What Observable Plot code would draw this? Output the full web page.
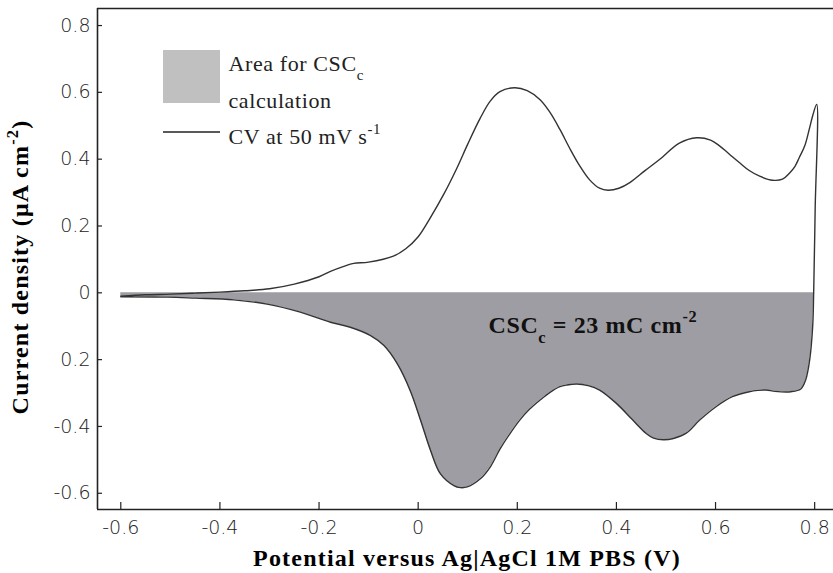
<!DOCTYPE html>
<html><head><meta charset="utf-8">
<script src="https://cdn.jsdelivr.net/npm/d3@7"></script>
<script src="https://cdn.jsdelivr.net/npm/@observablehq/plot@0.6"></script>
<style>body{margin:0;background:#fff}</style>
</head><body><div id="chart"></div>
<script>
// Anodic (upper) branch, -0.6 V -> 0.8 V
const upperX = [-0.6, -0.55, -0.5, -0.45, -0.4, -0.35, -0.3, -0.25, -0.2, -0.177, -0.15, -0.13, -0.1, -0.05, -0.025, 0, 0.025, 0.052, 0.079, 0.1, 0.125, 0.145, 0.165, 0.195, 0.22, 0.246, 0.266, 0.286, 0.306, 0.326, 0.346, 0.366, 0.383, 0.405, 0.427, 0.457, 0.487, 0.527, 0.562, 0.59, 0.608, 0.628, 0.648, 0.668, 0.689, 0.715, 0.735, 0.749, 0.76, 0.769, 0.78, 0.789, 0.796, 0.804];
const upperY = [-0.01, -0.006, -0.004, -0.001, 0.002, 0.006, 0.012, 0.026, 0.048, 0.064, 0.079, 0.088, 0.092, 0.11, 0.132, 0.168, 0.226, 0.296, 0.376, 0.445, 0.522, 0.573, 0.602, 0.614, 0.605, 0.578, 0.54, 0.489, 0.432, 0.38, 0.338, 0.313, 0.307, 0.313, 0.33, 0.365, 0.399, 0.448, 0.464, 0.457, 0.44, 0.415, 0.39, 0.366, 0.349, 0.337, 0.34, 0.358, 0.378, 0.405, 0.44, 0.489, 0.53, 0.564];
// Cathodic (lower) branch, 0.8 V -> -0.6 V
const lowerX = [0.804, 0.801, 0.798, 0.796, 0.79, 0.782, 0.772, 0.752, 0.72, 0.702, 0.685, 0.668, 0.634, 0.601, 0.568, 0.541, 0.515, 0.495, 0.475, 0.46, 0.433, 0.4, 0.366, 0.343, 0.32, 0.3, 0.286, 0.266, 0.246, 0.225, 0.205, 0.185, 0.165, 0.146, 0.126, 0.099, 0.085, 0.072, 0.045, 0.025, 0.005, -0.016, -0.042, -0.069, -0.096, -0.137, -0.177, -0.238, -0.305, -0.372, -0.45, -0.506, -0.6];
const lowerY = [0.564, 0.25, 0.0, -0.1, -0.2, -0.26, -0.288, -0.296, -0.295, -0.291, -0.292, -0.296, -0.311, -0.341, -0.381, -0.42, -0.436, -0.44, -0.435, -0.421, -0.381, -0.331, -0.291, -0.278, -0.273, -0.276, -0.281, -0.298, -0.321, -0.348, -0.381, -0.422, -0.468, -0.52, -0.556, -0.581, -0.583, -0.577, -0.542, -0.472, -0.382, -0.293, -0.213, -0.158, -0.128, -0.103, -0.088, -0.058, -0.034, -0.021, -0.016, -0.013, -0.012];

const xTicks = [-0.6, -0.4, -0.2, 0, 0.2, 0.4, 0.6, 0.8];
const xTickLabels = ["-0.6", "-0.4", "-0.2", "0", "0.2", "0.4", "0.6", "0.8"];
const yTicks = [0.8, 0.6, 0.4, 0.2, 0, -0.2, -0.4, -0.6];
const yTickLabels = ["0.8", "0.6", "0.4", "0.2", "0", "0.2", "-0.4", "-0.6"];
const xDomain = [-0.647, 0.838];
const yDomain = [-0.6486, 0.851];

const legendLabels = ["Area for CSC_{c}", "calculation", "CV at 50 mV s^{-1}"];
const annotation = "CSC_{c} = 23 mC cm^{-2}";
const xTitle = "Potential versus Ag|AgCl 1M PBS (V)";
const yTitle = "Current density (\u03bcA cm^{-2})";

const upper = upperX.map((x, i) => ({x, y: upperY[i]}));
const lower = lowerX.map((x, i) => ({x, y: lowerY[i]}));
const cv = upper.concat(lower.slice(1));
const fillData = lower.filter(d => d.y <= 0);

const fmtX = d => xTickLabels[xTicks.indexOf(d)];
const fmtY = d => yTickLabels[yTicks.indexOf(d)];

const serif = "'Liberation Serif', 'Times New Roman', serif";
const legendDy = [62, 99, 135];
const W = 833, H = 573, ML = 97, MR = 0, MT = 8, MB = 64;

const plot = Plot.plot({
  width: W, height: H,
  marginLeft: ML, marginRight: MR, marginTop: MT, marginBottom: MB,
  x: {domain: xDomain},
  y: {domain: yDomain},
  style: {fontFamily: "'DejaVu Sans', sans-serif", fontSize: "19px", color: "#222", background: "white"},
  marks: [
    Plot.areaY(fillData, {x: "x", y1: 0, y2: "y", fill: "#9e9da3", curve: "catmull-rom"}),
    Plot.line(cv, {x: "x", y: "y", stroke: "#333", strokeWidth: 1.4, curve: "catmull-rom"}),
    Plot.ruleX([xDomain[0]], {stroke: "#222", strokeWidth: 1.6}),
    Plot.ruleY([yDomain[0], yDomain[1]], {stroke: "#222", strokeWidth: 1.6}),
    // inward tick marks
    Plot.tickX(xTicks, {x: d => d, insetTop: H - MT - MB - 7, stroke: "#222", strokeWidth: 1.2}),
    Plot.tickY(yTicks, {y: d => d, insetRight: W - ML - MR - 5, stroke: "#222", strokeWidth: 1.2}),
    Plot.axisX({ticks: xTicks, tickSize: 0, tickPadding: 11, tickFormat: fmtX, label: null, fill: "#222", fontWeight: 300}),
    Plot.axisY({ticks: yTicks, tickSize: 0, tickPadding: 7, tickFormat: fmtY, label: null, fill: "#222", fontWeight: 300}),
    Plot.text([xTitle], {frameAnchor: "bottom", text: d => d, dx: 1.5, dy: 56, lineAnchor: "bottom", textAnchor: "middle", fontFamily: serif, fontWeight: "bold", fontSize: 24, fill: "#000"}),
    Plot.text([yTitle], {frameAnchor: "left", text: d => d, dx: -77, dy: 8, rotate: -90, lineAnchor: "middle", textAnchor: "middle", fontFamily: serif, fontWeight: "bold", fontSize: 24, fill: "#000"}),
    Plot.text([annotation], {frameAnchor: "top-left", text: d => d, dx: 391, dy: 324, lineAnchor: "bottom", textAnchor: "start", fontFamily: serif, fontWeight: "bold", fontSize: 24, fill: "#111"}),
    ...legendLabels.map((t, i) => Plot.text([t], {frameAnchor: "top-left", text: d => d, dx: 131, dy: legendDy[i], lineAnchor: "bottom", textAnchor: "start", fontFamily: serif, fontSize: 22, fill: "#222"}))
  ]
});

document.getElementById("chart").appendChild(plot);

// rich text: sub/superscripts and letter spacing
function richText(el, str, size) {
  const parts = str.split(/(_\{[^}]*\}|\^\{[^}]*\})/).filter(s => s);
  el.textContent = "";
  let shift = 0;
  for (const p of parts) {
    const t = document.createElementNS("http://www.w3.org/2000/svg", "tspan");
    let target = 0, txt = p, small = false;
    if (p.startsWith("_{")) { target = size * 0.45; txt = p.slice(2, -1); small = true; }
    else if (p.startsWith("^{")) { target = -size * 0.42; txt = p.slice(2, -1); small = true; }
    t.setAttribute("dy", target - shift);
    shift = target;
    if (small) t.setAttribute("font-size", size * 0.68);
    t.textContent = txt;
    el.appendChild(t);
  }
}
const spec = new Map([
  [xTitle, {size: 24, ls: 1.2}],
  [yTitle, {size: 24, ls: 1.2}],
  [annotation, {size: 24, ls: 0.6}],
  [legendLabels[0], {size: 22, ls: 0.6}],
  [legendLabels[1], {size: 22, ls: 0.6}],
  [legendLabels[2], {size: 22, ls: 0.6}]
]);
d3.select(plot).selectAll("text").each(function() {
  const s = this.textContent;
  if (spec.has(s)) {
    const o = spec.get(s);
    richText(this, s, o.size);
    this.setAttribute("letter-spacing", o.ls);
  }
});

// legend swatches
const svg = d3.select(plot);
svg.append("rect").attr("x", 163).attr("y", 50).attr("width", 57).attr("height", 53).attr("fill", "#c0c0c0");
svg.append("line").attr("x1", 163).attr("x2", 220).attr("y1", 132).attr("y2", 132).attr("stroke", "#222").attr("stroke-width", 1.3);
</script>
</body></html>
